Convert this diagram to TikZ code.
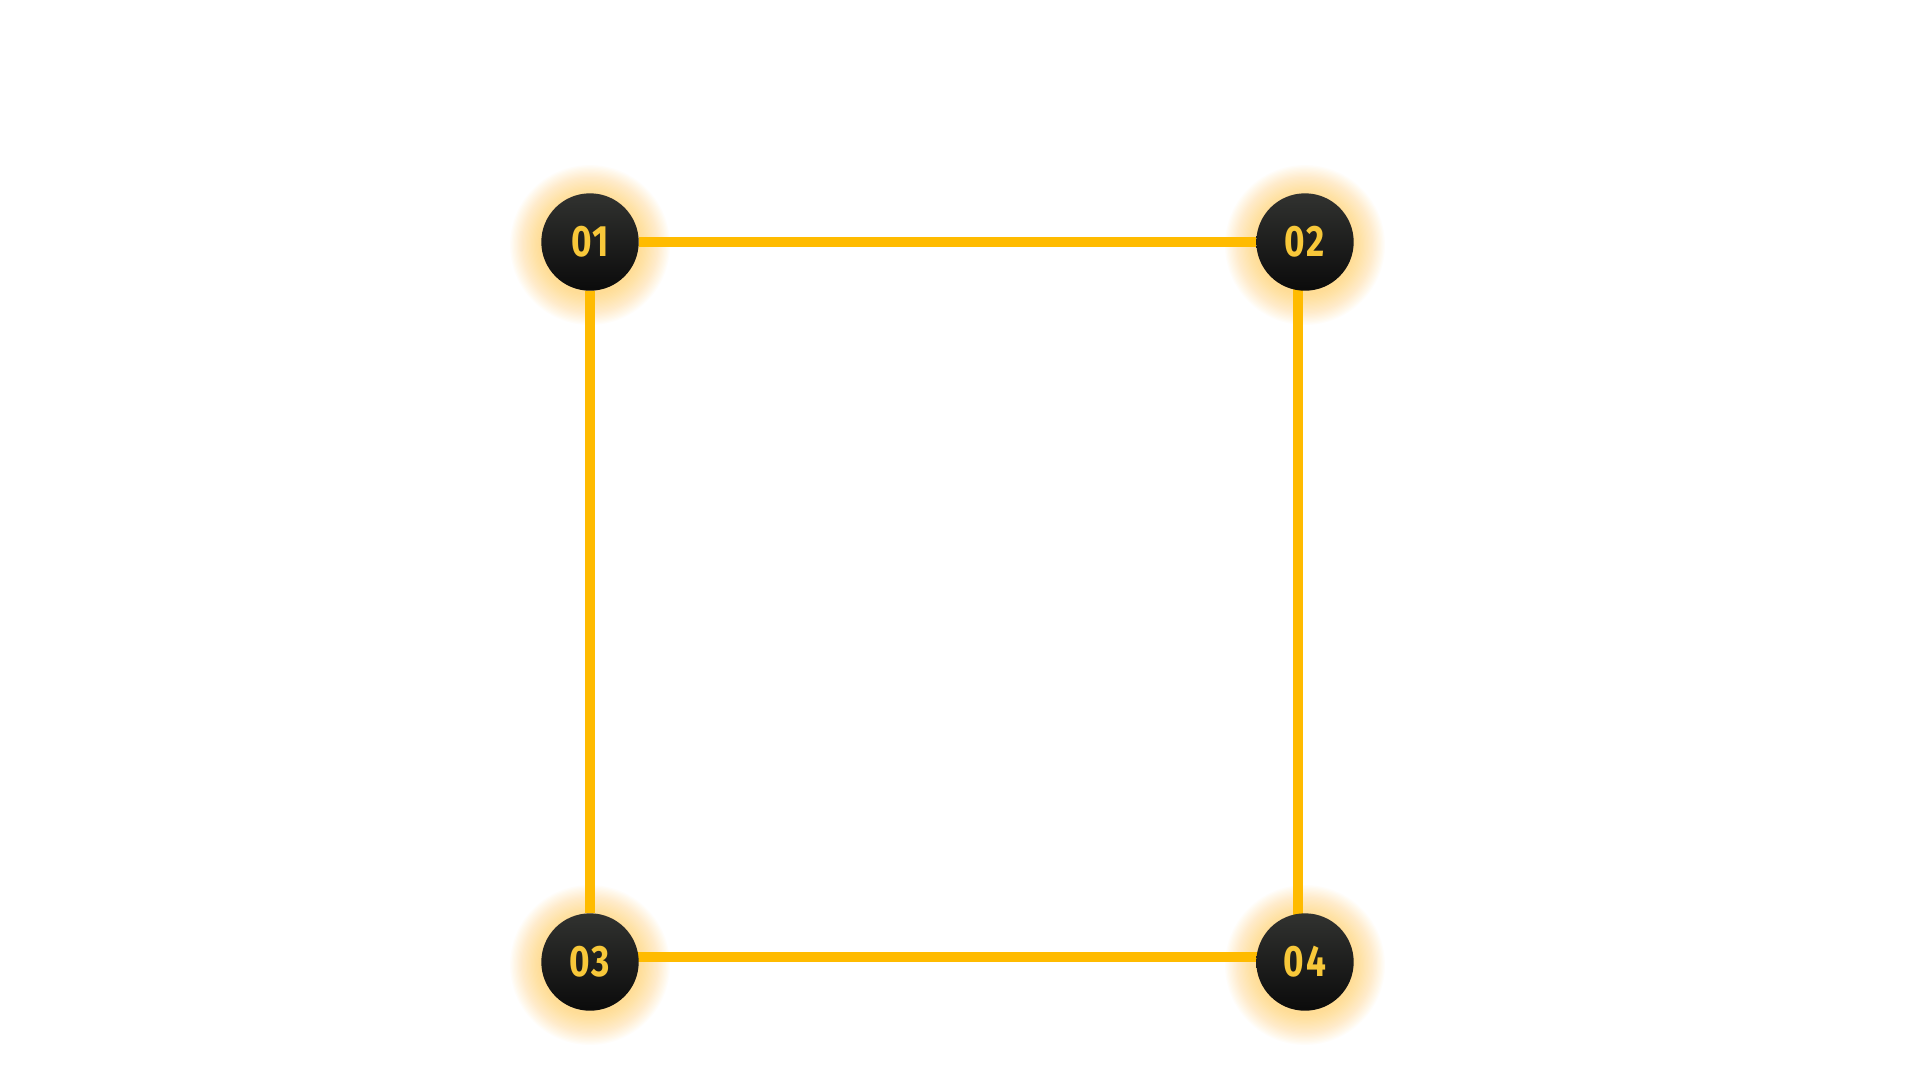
\documentclass[tikz,border=0pt]{standalone}
\usepackage{fontspec}
\newfontfamily\stepfont[FakeStretch=0.8,LetterSpace=4]{Fira Sans}
\usepackage{tikz}
\usepackage{xcolor}

\definecolor{edgeyellow}{RGB}{255,187,0}
\definecolor{numyellow}{RGB}{248,200,58}
\definecolor{disctop}{RGB}{49,50,48}
\definecolor{discbottom}{RGB}{11,11,11}
\definecolor{glowyellow}{RGB}{255,200,60}

\pgfdeclarelayer{glowlayer}
\pgfdeclarelayer{linelayer}
\pgfsetlayers{glowlayer,linelayer,main}

\begin{document}
\begin{tikzpicture}[x=0.1mm,y=-0.1mm,
  disc/.style={circle,inner sep=0pt,minimum size=9.74mm,
    top color=disctop,bottom color=discbottom,
    text=numyellow,font=\stepfont\bfseries\fontsize{12.5}{12.5}\selectfont},
  edge/.style={edgeyellow,line width=2.85pt}]
\useasboundingbox (0,0) rectangle (1920,1080);

% corner discs
\node[disc] (n1) at (590,242) {01};
\node[disc] (n2) at (1305,242) {02};
\node[disc] (n3) at (590,962) {03};
\node[disc] (n4) at (1305,962) {04};

% soft glow behind each disc
\begin{pgfonlayer}{glowlayer}
\fill[white] (0,0) rectangle (1920,1080);
\foreach \n in {n1,n2,n3,n4}
  \foreach \k in {0,...,23}
    \fill[glowyellow,fill opacity=0.026] ([yshift=-0.3mm]\n.center) circle ({5mm+\k*0.13mm});
\end{pgfonlayer}

% frame
\begin{pgfonlayer}{linelayer}
\draw[edge] (n1) -- (n2);
\draw[edge] (n1) -- (n3);
\draw[edge] ([xshift=-0.7mm]n2.center) -- ([xshift=-0.7mm]n4.center);
\draw[edge] ([yshift=0.5mm]n3.center) -- ([yshift=0.5mm]n4.center);
\end{pgfonlayer}
\end{tikzpicture}
\end{document}
